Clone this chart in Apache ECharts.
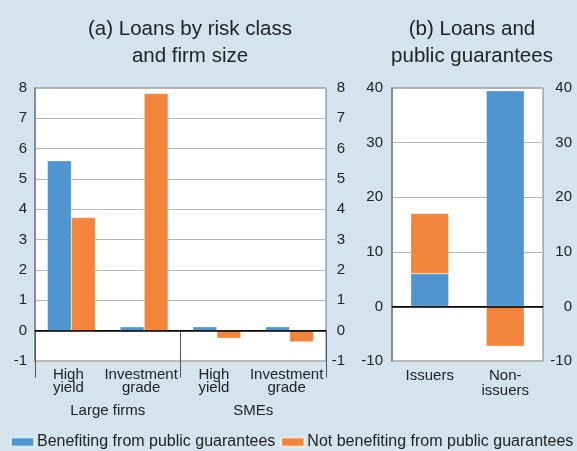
<!DOCTYPE html>
<html>
<head>
<meta charset="utf-8">
<script src="https://cdn.jsdelivr.net/npm/echarts@6/dist/echarts.min.js"></script>
<style>
  html, body { margin: 0; padding: 0; background: #d3e4ee; }
  #chart { width: 577px; height: 451px; }
</style>
</head>
<body>
<div id="chart"></div>
<script>
// Panel (a): loans by risk class and firm size
const riskClasses = ['High\nyield', 'Investment\ngrade', 'High\nyield', 'Investment\ngrade'];
const firmSizes = ['Large firms', 'SMEs'];
const benefitingA = [5.6, 0.13, 0.13, 0.13];
const notBenefitingA = [3.73, 7.82, -0.25, -0.37];
const ticksA = { min: -1, max: 8, interval: 1 };

// Panel (b): loans and public guarantees
const issuerGroups = ['Issuers', 'Non-\nissuers'];
const benefitingB = [6, 39.5];
const notBenefitingB = [11, -7.3];
const ticksB = { min: -10, max: 40, interval: 10 };

const seriesNames = ['Benefiting from public guarantees', 'Not benefiting from public guarantees'];
const BLUE = '#4f96d1';
const ORANGE = '#f2843b';
const FONT = 'Liberation Sans, Arial, sans-serif';
const TEXT = '#222';

const chart = echarts.init(document.getElementById('chart'));

function valueAxis(gridIndex, ticks, side, margin, showSplit) {
  return {
    type: 'value', gridIndex, position: side,
    min: ticks.min, max: ticks.max, interval: ticks.interval,
    axisLine: { show: side === 'left', lineStyle: { color: '#8c8c8c', width: 2 } },
    axisTick: { show: false },
    splitLine: { show: showSplit, lineStyle: { color: '#b5b5b5', width: 1 } },
    axisLabel: {
      color: TEXT, fontFamily: FONT, fontSize: 15, margin,
      align: 'right'
    }
  };
}

const zeroLine = {
  silent: true, symbol: 'none', label: { show: false },
  lineStyle: { color: '#000', width: 1.5, type: 'solid' },
  data: [{ yAxis: 0 }]
};

const titleStyle = { fontFamily: FONT, fontSize: 20.5, fontWeight: 'normal', color: TEXT, lineHeight: 27 };

chart.setOption({
  animation: false,
  backgroundColor: '#d3e4ee',
  textStyle: { fontFamily: FONT },
  title: [
    { text: '(a) Loans by risk class\nand firm size', left: 185, top: 11, textAlign: 'center', textStyle: titleStyle },
    { text: '(b) Loans and\npublic guarantees', left: 467, top: 11, textAlign: 'center', textStyle: titleStyle }
  ],
  legend: {
    data: seriesNames,
    left: 10, top: 434, width: 570, padding: 0,
    itemWidth: 23, itemHeight: 9, itemGap: 5,
    icon: 'rect',
    textStyle: { fontFamily: FONT, fontSize: 16, color: TEXT, padding: [0, 0, 0, -2] }
  },
  grid: [
    { left: 35, right: 251, top: 88, height: 273, show: true, backgroundColor: '#fff', borderColor: '#7a7a7a', borderWidth: 1 },
    { left: 392, right: 34, top: 88, height: 273, show: true, backgroundColor: '#fff', borderColor: '#7a7a7a', borderWidth: 1 }
  ],
  xAxis: [
    {
      type: 'category', gridIndex: 0, data: riskClasses, position: 'bottom',
      axisLine: { show: true, lineStyle: { color: '#222', width: 1 } },
      axisTick: { show: false },
      axisLabel: { color: TEXT, fontFamily: FONT, fontSize: 15, lineHeight: 13, margin: 7, interval: 0, padding: [0, 6, 0, 0] }
    },
    {
      type: 'category', gridIndex: 0, data: firmSizes, position: 'bottom',
      axisLine: { show: false },
      axisTick: { show: true, length: 47, lineStyle: { color: '#555', width: 1 } },
      axisLabel: { color: TEXT, fontFamily: FONT, fontSize: 15, margin: 42, interval: 0 }
    },
    {
      type: 'category', gridIndex: 1, data: issuerGroups, position: 'bottom',
      axisLine: { show: true, lineStyle: { color: '#222', width: 1 } },
      axisTick: { show: false },
      axisLabel: { color: TEXT, fontFamily: FONT, fontSize: 15, lineHeight: 15, margin: 7, interval: 0 }
    }
  ],
  yAxis: [
    valueAxis(0, ticksA, 'left', 8, true),
    valueAxis(0, ticksA, 'right', 19, false),
    valueAxis(1, ticksB, 'left', 9, true),
    valueAxis(1, ticksB, 'right', 29, false)
  ],
  series: [
    {
      name: seriesNames[0], type: 'bar', xAxisIndex: 0, yAxisIndex: 0,
      data: benefitingA, barGap: '0%', barCategoryGap: '34%',
      itemStyle: { color: BLUE, borderColor: 'rgba(255,255,255,0.6)', borderWidth: 0.5 },
      markLine: zeroLine
    },
    {
      name: seriesNames[1], type: 'bar', xAxisIndex: 0, yAxisIndex: 0,
      data: notBenefitingA, barGap: '0%', barCategoryGap: '34%',
      itemStyle: { color: ORANGE, borderColor: 'rgba(255,255,255,0.6)', borderWidth: 0.5 }
    },
    {
      name: seriesNames[0], type: 'bar', xAxisIndex: 2, yAxisIndex: 2, stack: 'b',
      data: benefitingB, barWidth: 38,
      itemStyle: { color: BLUE, borderColor: 'rgba(255,255,255,0.6)', borderWidth: 0.5 },
      markLine: zeroLine
    },
    {
      name: seriesNames[1], type: 'bar', xAxisIndex: 2, yAxisIndex: 2, stack: 'b',
      data: notBenefitingB, barWidth: 38,
      itemStyle: { color: ORANGE, borderColor: 'rgba(255,255,255,0.6)', borderWidth: 0.5 }
    }
  ]
});
</script>
</body>
</html>
